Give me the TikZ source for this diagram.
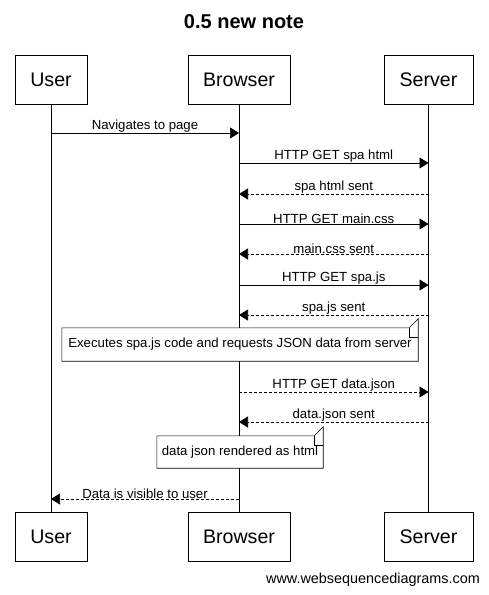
\documentclass[tikz,border=0pt]{standalone}
\usepackage{fontspec}
\setmainfont{Liberation Sans}
\usetikzlibrary{arrows.meta}
\usetikzlibrary{calc}

\tikzset{
 actor/.style={draw, thick, minimum width=72, minimum height=49, inner sep=0, font=\fontsize{19.6}{22}\selectfont},
 msg/.style={-{Triangle[length=9pt,width=11pt]}, line width=.6pt},
 reply/.style={msg, dash pattern=on 3pt off 2pt},
 msglabel/.style={above, yshift=-1, inner sep=1, font=\fontsize{13.2}{15}\selectfont},
 notebox/.style={fill=white, inner sep=0, minimum height=33, font=\fontsize{13.2}{15}\selectfont},
}

\begin{document}
\begin{tikzpicture}[x=1pt, y=-1pt]
\useasboundingbox (0,0) rectangle (488,595);
\node (title) at (244,22) {\fontsize{20}{22}\selectfont\bfseries 0.5 new note};
% participants, top and bottom
\node[actor] (userT) at (51,79.5) {User};
\node[actor, minimum width=102] (browserT) at (239,79.5) {Browser};
\node[actor, minimum width=89] (serverT) at (428.5,79.5) {Server};
\node[actor] (userB) at (51,537) {User};
\node[actor, minimum width=102] (browserB) at (239,537) {Browser};
\node[actor, minimum width=89] (serverB) at (428.5,537) {Server};
% lifelines
\foreach \p in {user,browser,server} {
 \draw[line width=.6pt] (\p T.south)--(\p B.north);
}
% messages
\foreach \y/\from/\to/\sty/\txt in {
 133/user/browser/msg/Navigates to page,
 163/browser/server/msg/HTTP GET spa html,
 194/server/browser/reply/spa html sent,
 224/browser/server/msg/HTTP GET main.css,
 254/server/browser/reply/main.css sent,
 285/browser/server/msg/HTTP GET spa.js,
 315/server/browser/reply/spa.js sent,
 392/browser/server/reply/HTTP GET data.json,
 422/server/browser/reply/data.json sent,
 499/browser/user/reply/Data is visible to user} {
 \draw[\sty] (\from T.south |- 0,\y) -- node[msglabel]{\txt} (\to T.south |- 0,\y);
}
% notes
\node[notebox, minimum width=356] (note1) at (240,344.5) {Executes spa.js code and requests JSON data from server};
\node[notebox, minimum width=166, minimum height=32] (note2) at (240,452) {data json rendered as html};
\foreach \n in {note1,note2} {
 \draw[line width=.6pt] (\n.south west) -- (\n.north west) -- ([xshift=-9]\n.north east) -- ([yshift=9]\n.north east) -- (\n.south east) -- cycle;
 \draw[line width=.6pt] ([xshift=-9]\n.north east) --++(0,9) --++(9,0);
}
\node[font=\fontsize{14.4}{16}\selectfont] (credit) at (373,580) {www.websequencediagrams.com};
\end{tikzpicture}
\end{document}
